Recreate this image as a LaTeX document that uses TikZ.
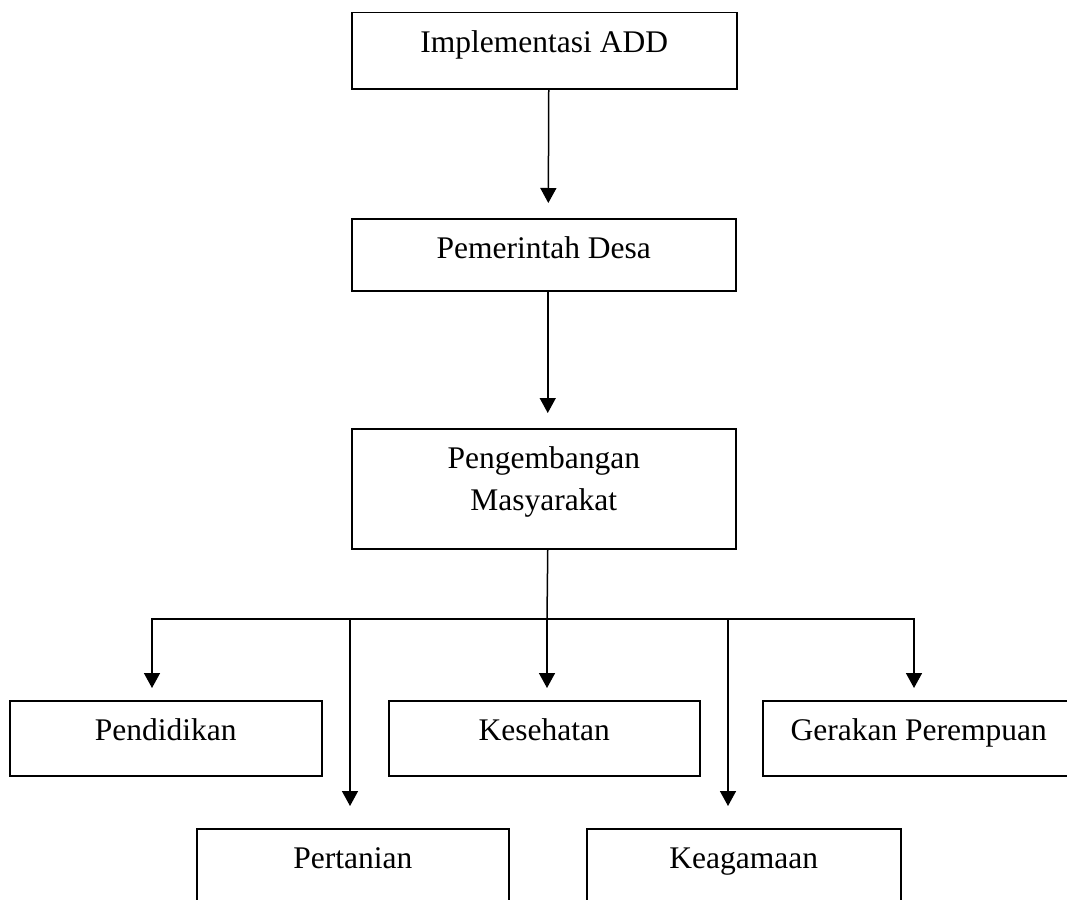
\documentclass[tikz,border=0pt]{standalone}
\usepackage{fontspec}
\setmainfont{Liberation Serif}
\usetikzlibrary{arrows.meta}
\newcommand{\diafs}{\fontsize{31.5}{42}\selectfont}
\begin{document}
\begin{tikzpicture}[x=1pt,y=-1pt,
  box/.style={draw, line width=1.5pt, inner sep=0pt, anchor=north west},
  lbl/.style={anchor=north, inner sep=0pt, yshift=-10.6pt, font=\diafs, align=center},
  conn/.style={line width=1.5pt},
  arr/.style={line width=1.5pt, -{Triangle[length=15pt,width=16pt]}}]
\useasboundingbox (0,0) rectangle (1067,899);
\clip (0,0) rectangle (1067,899);
% boxes
\node[box, minimum width=385pt, minimum height=76pt,
  label={[lbl]north:{\strut Implementasi ADD}}] (b1) at (351,12) {};
\node[box, minimum width=384pt, minimum height=72pt,
  label={[lbl]north:{\strut Pemerintah Desa}}] (b2) at (351,218) {};
\node[box, minimum width=384pt, minimum height=120pt,
  label={[lbl]north:{\strut Pengembangan\\Masyarakat}}] (b3) at (351,428) {};
\node[box, minimum width=312pt, minimum height=75pt,
  label={[lbl]north:{\strut Pendidikan}}] (pend) at (9,700) {};
\node[box, minimum width=311pt, minimum height=75pt,
  label={[lbl]north:{\strut Kesehatan}}] (kes) at (388,700) {};
\node[box, minimum width=312pt, minimum height=75pt,
  label={[lbl]north:{\strut Gerakan Perempuan}}] (ger) at (762,700) {};
\node[box, minimum width=312pt, minimum height=100pt,
  label={[lbl]north:{\strut Pertanian}}] (pert) at (196,828) {};
\node[box, minimum width=314pt, minimum height=100pt,
  label={[lbl]north:{\strut Keagamaan}}] (keag) at (586,828) {};
% junctions
\coordinate (jP) at (152,619);
\coordinate (jT) at (350,619);
\coordinate (jK) at (547,619);
\coordinate (jA) at (728,619);
\coordinate (jG) at (914,619);
% connectors
\draw[arr, shorten >=15pt] ([xshift=4.5pt]b1.south) -- ([xshift=4.5pt]b2.north);
\draw[arr, shorten >=15pt] ([xshift=4pt]b2.south) -- ([xshift=4pt]b3.north);
\draw[conn] ([xshift=4pt]b3.south) -- (jK);
\draw[conn, line cap=rect] (jP) -- (jG);
\draw[arr, shorten >=12pt] (jP) -- (jP |- pend.north);
\draw[arr, shorten >=12pt] (jK) -- (jK |- kes.north);
\draw[arr, shorten >=12pt] (jG) -- (jG |- ger.north);
\draw[arr, shorten >=22pt] (jT) -- (jT |- pert.north);
\draw[arr, shorten >=22pt] (jA) -- (jA |- keag.north);
\end{tikzpicture}
\end{document}
